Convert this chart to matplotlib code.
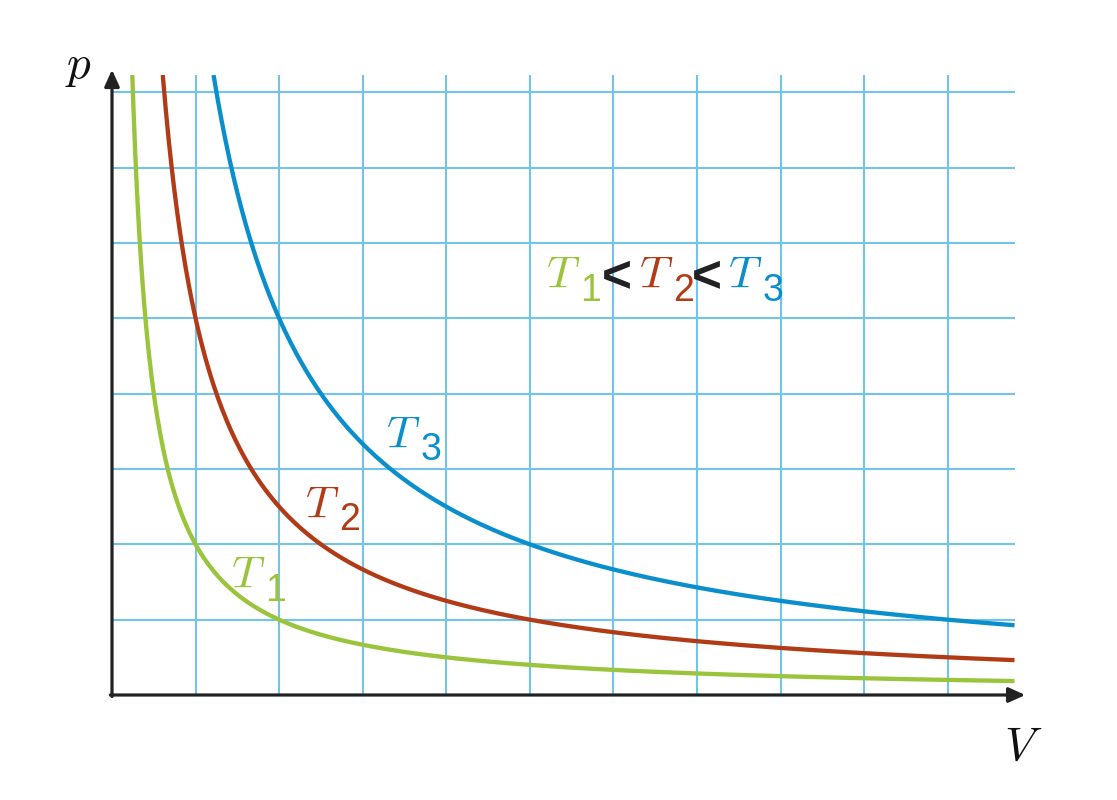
import numpy as np
import matplotlib.pyplot as plt

plt.rcParams['mathtext.fontset'] = 'cm'

# isotherms p = k / V
constants = [2, 5, 10]
names = ['1', '2', '3']
colors = ['#9ac43c', '#b23b17', '#0a8fcc']
label_pos = [(1.63, 1.62), (2.51, 2.55), (3.49, 3.48)]
grid_v = [1, 2, 3, 4, 5, 6, 7, 8, 9, 10]
grid_p = [1, 2, 3, 4, 5, 6, 7, 8]
vmax = 10.8
pmax = 8.23
grid_color = '#72c5e8'

fig = plt.figure(figsize=(11.17, 8), dpi=100)
ax = fig.add_axes([112 / 1117, 105 / 800, 905 / 1117, 620 / 800])
ax.set_xlim(0, 10.83)
ax.set_ylim(0, pmax)
ax.axis('off')

for v in grid_v:
    ax.plot([v, v], [0, pmax], color=grid_color, lw=1.5, zorder=1)
for p in grid_p:
    ax.plot([0, vmax], [p, p], color=grid_color, lw=1.5, zorder=1)

for k, c in zip(constants, colors):
    V = np.linspace(k / pmax, vmax, 600)
    ax.plot(V, k / V, color=c, lw=3.1, zorder=3, solid_capstyle='butt')

# axes with arrows
arrow = dict(arrowstyle='-|>,head_length=1.0,head_width=0.45', color='#222222', lw=2.3,
             shrinkA=0, shrinkB=0)
ax.annotate('', xy=(10.93, 0), xytext=(-0.02, 0), arrowprops=arrow, annotation_clip=False, zorder=4)
ax.annotate('', xy=(0, 8.3), xytext=(0, -0.02), arrowprops=arrow, annotation_clip=False, zorder=4)

ax.text(-0.4, 8.05, '$p$', fontsize=34, ha='center', va='bottom', color='#111111')
ax.text(10.9, -0.4, '$V$', fontsize=34, ha='center', va='top', color='#111111')


def tlabel(x, y, sub, color):
    ax.text(x, y, '$T$', fontsize=33, color=color, ha='center', va='baseline', zorder=5)
    ax.annotate(sub, xy=(x, y), xytext=(12.5, -9), textcoords='offset points',
                fontsize=27, color=color, ha='left', va='baseline',
                family='Liberation Sans', zorder=5)


for (x, y), s, c in zip(label_pos, names, colors):
    tlabel(x, y - 0.2, s, c)

# T1 < T2 < T3
row_y = 5.4
row_x = [(563 - 112) / 83.6, (656 - 112) / 83.6, (745 - 112) / 83.6]
for x, s, c in zip(row_x, names, colors):
    tlabel(x, row_y, s, c)
for x in [(617 - 112) / 83.6, (707 - 112) / 83.6]:
    ax.text(x, row_y - 0.05, '<', fontsize=37, fontweight='bold', color='#222222',
            ha='center', va='baseline', family='Liberation Sans')

fig.savefig('out.png', dpi=100)
